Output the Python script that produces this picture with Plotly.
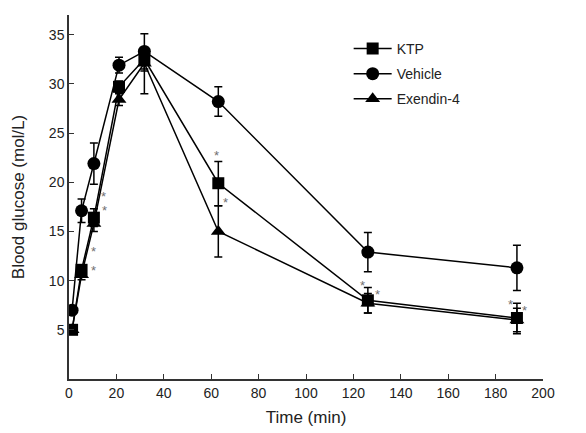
import plotly.graph_objects as go

# Time points (min)
time_min = [1.3, 5.3, 10.5, 21.1, 31.8, 63.0, 126.1, 189.0]

ktp = [5.0, 11.1, 16.4, 29.7, 32.5, 19.9, 8.0, 6.2]
ktp_err_up = [0.2, 0.5, 0.9, 0.6, 0.0, 2.2, 1.3, 1.5]
ktp_err_dn = [0.2, 0.5, 0.9, 0.6, 3.5, 2.3, 1.3, 1.6]

vehicle = [7.0, 17.1, 21.9, 31.9, 33.3, 28.2, 12.9, 11.3]
vehicle_err = [0.3, 1.2, 2.1, 0.8, 1.8, 1.5, 2.0, 2.3]

exendin = [5.0, 10.6, 15.8, 28.4, 32.1, 15.0, 7.7, 6.0]
exendin_err = [0.2, 0.5, 0.8, 0.6, 0.8, 2.6, 1.0, 1.2]

x_ticks = [0, 20, 40, 60, 80, 100, 120, 140, 160, 180, 200]
y_ticks = [5, 10, 15, 20, 25, 30, 35]

# significance stars: (index of time point, pixel shift x, pixel shift y) relative to KTP points
star_marks = [(1, 12, 3), (1, 12, 22), (2, 10, 25), (2, 11, 11),
              (5, -2, 32), (5, 7, -15), (6, -5, 19), (6, 10, 10),
              (7, -6, 18), (7, 8, 12)]

line_style = dict(color="black", width=1.5)
err_style = dict(color="black", thickness=1.5, width=4)

fig = go.Figure()
fig.add_trace(go.Scatter(
    x=time_min, y=ktp, name="KTP", mode="lines+markers",
    line=line_style, legendgroup="a",
    marker=dict(symbol="square", size=12, color="black"),
    error_y=dict(type="data", array=ktp_err_up, arrayminus=ktp_err_dn,
                 symmetric=False, **err_style)))
fig.add_trace(go.Scatter(
    x=time_min, y=vehicle, name="Vehicle", mode="lines+markers",
    line=line_style, legendgroup="b",
    marker=dict(symbol="circle", size=13, color="black"),
    error_y=dict(type="data", array=vehicle_err, **err_style)))
fig.add_trace(go.Scatter(
    x=time_min, y=exendin, name="Exendin-4", mode="lines+markers",
    line=line_style, legendgroup="c",
    marker=dict(symbol="triangle-up", size=13, color="black"),
    error_y=dict(type="data", array=exendin_err, **err_style)))

for i, dx, dy in star_marks:
    fig.add_annotation(x=time_min[i], y=ktp[i], text="*", showarrow=False,
                       xshift=dx, yshift=dy - 4,
                       font=dict(family="Liberation Sans, Arial", size=13, color="#707070"))

axis_font = dict(family="Liberation Sans, Arial", size=14, color="#222")
fig.update_layout(
    width=586, height=433,
    margin=dict(l=61, r=51, t=7, b=62, autoexpand=False),
    paper_bgcolor="white", plot_bgcolor="white",
    font=axis_font,
    showlegend=True,
    legend=dict(x=0.59, y=0.951, xanchor="left", yanchor="top",
                bgcolor="rgba(0,0,0,0)", font=dict(size=14, color="#222"),
                tracegroupgap=4, traceorder="grouped", itemwidth=38),
    xaxis=dict(range=[0, 200], tickvals=x_ticks, ticks="inside", ticklen=5,
               tickwidth=1.2, tickcolor="#333", showline=True, linecolor="#333",
               linewidth=1.5, showgrid=False, zeroline=False, automargin=False,
               title=dict(text="Time (min)", standoff=12), tickfont=axis_font),
    yaxis=dict(range=[0, 37], tickvals=y_ticks, ticks="inside", ticklen=5,
               tickwidth=1.2, tickcolor="#333", showline=True, linecolor="#333",
               linewidth=1.5, showgrid=False, zeroline=False, automargin=False,
               title=dict(text="Blood glucose (mol/L)", standoff=20), tickfont=axis_font),
)

fig.write_html("out.html")
